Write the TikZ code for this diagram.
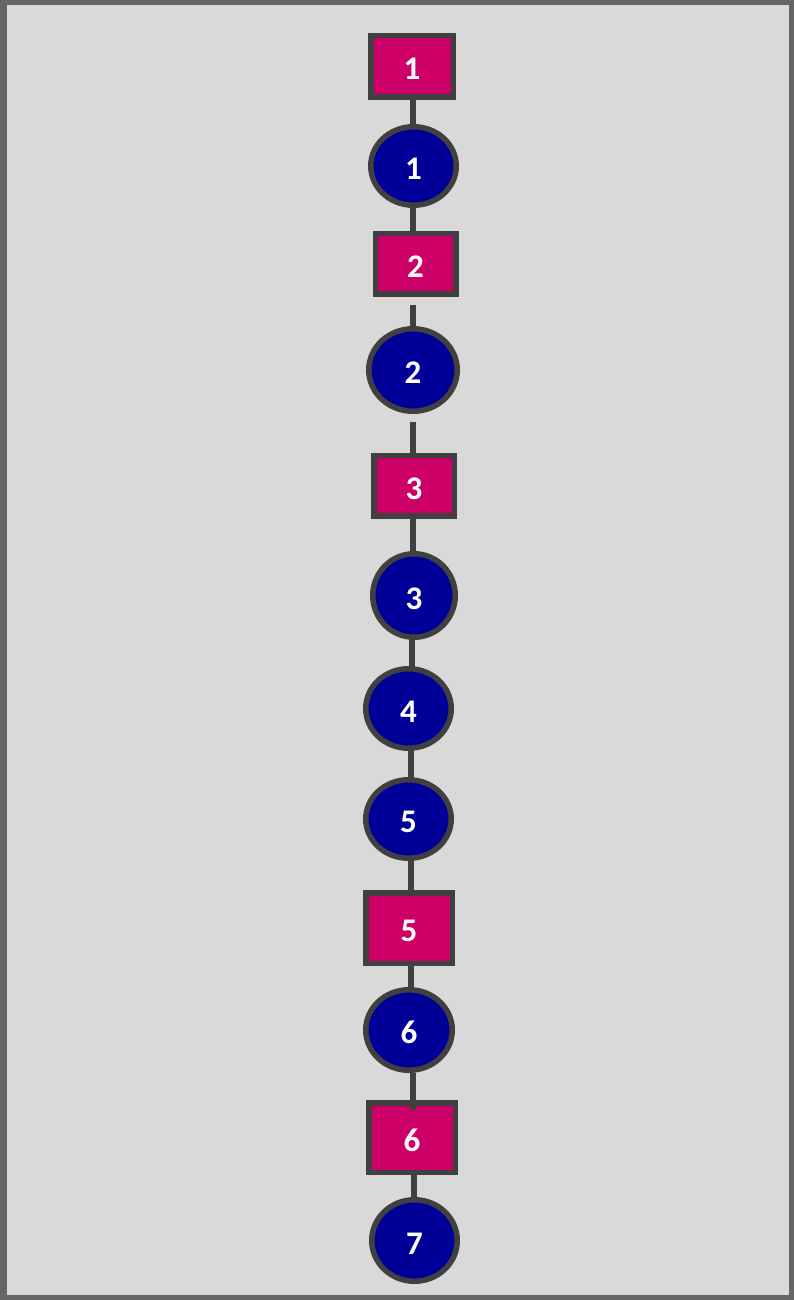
\documentclass[tikz,border=0pt]{standalone}
\usepackage{fontspec}
\setmainfont{Carlito}
\usetikzlibrary{shapes.geometric,backgrounds}
\definecolor{mag}{HTML}{CC0066}
\definecolor{navy}{HTML}{000099}
\definecolor{edgegray}{HTML}{404040}
\definecolor{framegray}{HTML}{666666}
\definecolor{bggray}{HTML}{D9D9D9}
\tikzset{
  base/.style={draw=edgegray, line width=5.5pt, text=white, inner sep=0pt,
    text height=27pt, text depth=0pt,
    font=\fontsize{33}{33}\selectfont\bfseries},
  sq/.style={base, rectangle, fill=mag},
  rnd/.style={base, ellipse, fill=navy},
  conn/.style={draw=edgegray, line width=6pt},
}
\begin{document}
\begin{tikzpicture}[x=1pt,y=-1pt]
\useasboundingbox (0,0) rectangle (794,1300);
\node[sq, minimum width=82.5pt, minimum height=61.5pt] (r1) at (412,66.5) {1};
\node[rnd, minimum width=85.5pt, minimum height=78.5pt] (c1) at (413.5,166) {1};
\node[sq, minimum width=80.5pt, minimum height=60.5pt] (r2) at (415.5,263.5) {2};
\node[rnd, minimum width=88.5pt, minimum height=82.5pt] (c2) at (413,370) {2};
\node[sq, minimum width=80.5pt, minimum height=60.5pt] (r3) at (414,485.5) {3};
\node[rnd, minimum width=82.5pt, minimum height=83.5pt] (c3) at (414,595.5) {3};
\node[rnd, minimum width=85.5pt, minimum height=79.5pt] (c4) at (408.5,708.5) {4};
\node[rnd, minimum width=85.5pt, minimum height=78.5pt] (c5) at (408.5,819) {5};
\node[sq, minimum width=86.5pt, minimum height=70.5pt] (r5) at (409,928) {5};
\node[rnd, minimum width=86.5pt, minimum height=80.5pt] (c6) at (409,1030) {6};
\node[sq, minimum width=86.5pt, minimum height=69.5pt] (r6) at (412,1137.5) {6};
\node[rnd, minimum width=85.5pt, minimum height=81.5pt] (c7) at (414.5,1240.5) {7};
\path (413,0 |- c6.south) coordinate (c6out);
\path (413,0 |- r6.north) ++(0,10) coordinate (r6in);
\draw[conn] (c6out) -- (r6in);
\begin{scope}[on background layer]
  \draw[draw=framegray, fill=bggray, line width=5pt] (2.5,2.5) rectangle (791.5,1297.5);
  \draw[draw=framegray, line width=7pt] (3.5,0) -- (3.5,1300);
  \foreach \a/\b/\x in {r1/c1/413, c1/r2/413, c3/c4/412, c4/c5/411, c5/r5/411, r5/c6/411, r6/c7/414}{
    \draw[conn] (\x,0 |- \a.center) -- (\x,0 |- \b.center);
  }
  \draw[conn] (413,0 |- r2.south) ++(0,8) -- (413,0 |- c2.center);
  \draw[conn] (413,0 |- c2.south) ++(0,8) -- (413,0 |- r3.center);
  \draw[conn] (413,0 |- r3.center) -- (413,0 |- c3.center);
\end{scope}
\end{tikzpicture}
\end{document}
